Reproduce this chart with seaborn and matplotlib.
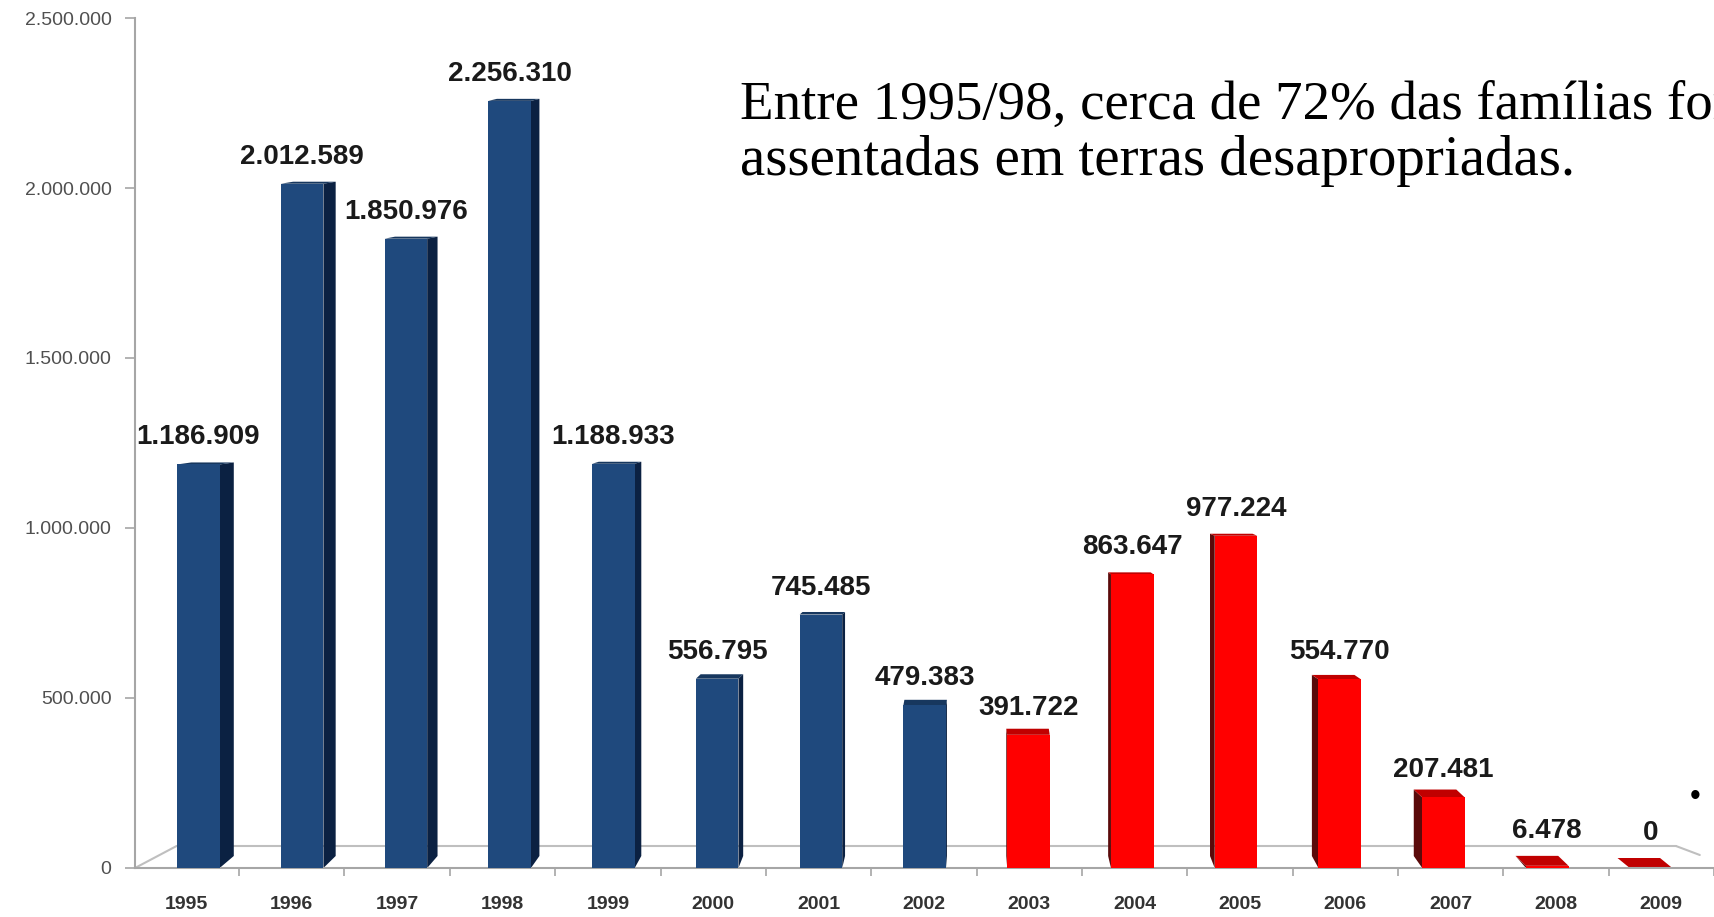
import matplotlib
matplotlib.use("Agg")
import matplotlib.pyplot as plt
from matplotlib.patches import Polygon
import seaborn as sns
import pandas as pd
import numpy as np

# ── Data ──────────────────────────────────────────────────────────────────────
years = ["1995", "1996", "1997", "1998", "1999", "2000", "2001", "2002",
         "2003", "2004", "2005", "2006", "2007", "2008", "2009"]
values = [1186909, 2012589, 1850976, 2256310, 1188933, 556795, 745485, 479383,
          391722, 863647, 977224, 554770, 207481, 6478, 0]
period = ["FHC"] * 8 + ["Lula"] * 7
ytick_values = [0, 500000, 1000000, 1500000, 2000000, 2500000]
ytick_labels = ["0", "500.000", "1.000.000", "1.500.000", "2.000.000", "2.500.000"]
note_lines = ["Entre 1995/98, cerca de 72% das famílias foram",
              "assentadas em terras desapropriadas."]

front_col = {"FHC": "#1F497D", "Lula": "#FF0000"}
side_col = {"FHC": "#0B2142", "Lula": "#5A0A0A"}
top_col = {"FHC": "#17375E", "Lula": "#C00000"}

df = pd.DataFrame({"ano": years, "valor": values, "periodo": period})

# ── Figure ────────────────────────────────────────────────────────────────────
sns.set_theme(style="white")
plt.rcParams["font.family"] = ["Liberation Sans", "DejaVu Sans"]

W, H, DPI = 1714, 917, 100
fig = plt.figure(figsize=(W / DPI, H / DPI), dpi=DPI)
ax = fig.add_axes([135 / W, (H - 868) / H, (W - 135) / W, 850 / H])

sns.barplot(data=df, x="ano", y="valor", hue="periodo", palette=front_col,
            dodge=False, width=0.41, legend=False, saturation=1, ax=ax,
            edgecolor="none", linewidth=0, zorder=3)

ax.set_xlim(-0.611, 14.47)
ax.set_ylim(0, 2500000)

px_x = 104.7                 # pixels per category
px_y = 850 / 2500000         # pixels per value unit

# pseudo-3D faces (depth leans toward the middle of the chart)
bars = sorted([p for p in ax.patches if p.get_width() > 0], key=lambda p: p.get_x())
for i, (bar, v, per) in enumerate(zip(bars, values, period)):
    x0 = bar.get_x()
    x1 = x0 + bar.get_width()
    dx = -1.9 * (i - 7.5) / px_x
    top_px = max(2.0, 10 * (1 - v / 1e6))
    dyt = top_px / px_y
    dyb = 12 / px_y
    edge = x1 if dx > 0 else x0
    side = Polygon([(edge, 0), (edge + dx, min(dyb, v + dyt)),
                    (edge + dx, v + dyt), (edge, v)],
                   closed=True, facecolor=side_col[per], edgecolor="none", zorder=2)
    top = Polygon([(x0, v), (x1, v), (x1 + dx, v + dyt), (x0 + dx, v + dyt)],
                  closed=True, facecolor=top_col[per], edgecolor="none", zorder=2)
    ax.add_patch(side)
    ax.add_patch(top)
    off = 20 if v > 100000 else 28
    ax.annotate(f"{v:,}".replace(",", "."), xy=(bar.get_x() + bar.get_width() / 2, v),
                xytext=(0, off * 0.72), textcoords="offset points",
                ha="center", va="baseline", fontsize=20, fontweight="bold",
                color="#1A1A1A", zorder=5, annotation_clip=False)

# floor of the 3D box
floor_y = 22 / px_y
gray = "#BFBFBF"
ax.plot([-0.611, -0.21], [0, floor_y], color=gray, lw=1.5, zorder=1, clip_on=False)
ax.plot([-0.21, 14.24], [floor_y, floor_y], color=gray, lw=1.5, zorder=1)
ax.plot([14.24, 14.47], [floor_y, 13 / px_y], color=gray, lw=1.5, zorder=1)

# axes styling
sns.despine(ax=ax, top=True, right=True)
for s in ["left", "bottom"]:
    ax.spines[s].set_color("#A6A6A6")
    ax.spines[s].set_linewidth(1.5)

ax.set_yticks(ytick_values)
ax.set_yticklabels(ytick_labels)
ax.tick_params(axis="y", left=True, length=7, width=1.2, color="#A6A6A6",
               pad=10, labelsize=14, labelcolor="#505050")

lab_pos = [-0.115 + 1.0153 * i for i in range(len(years))]
ax.set_xticks(lab_pos)
ax.set_xticklabels(years, fontweight="bold")
ax.set_xticks([p + 0.5077 for p in lab_pos], minor=True)
ax.tick_params(axis="x", which="major", bottom=False, length=0, pad=20,
               labelsize=14, labelcolor="#333333")
ax.tick_params(axis="x", which="minor", bottom=True, length=6, width=1.2,
               color="#A6A6A6")
ax.set_xlabel("")
ax.set_ylabel("")
ax.grid(False)

# footnote mark near the last bar
fig.text(1695 / W, 1 - 797 / H, "•", ha="center", va="center", fontsize=22, color="black")

# annotation in serif font (runs off the right edge, as in the original)
fig.text(740 / W, 1 - 119 / H, note_lines[0], family="Liberation Serif",
         fontsize=39.5, color="black", ha="left", va="baseline")
fig.text(740 / W, 1 - 175 / H, note_lines[1], family="Liberation Serif",
         fontsize=41, color="black", ha="left", va="baseline")

fig.savefig("out.png", dpi=DPI)
